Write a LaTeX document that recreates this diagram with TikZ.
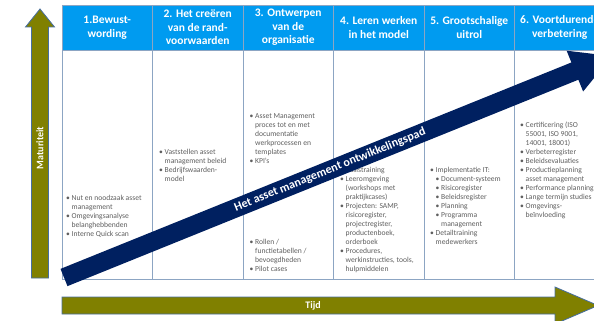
\documentclass[tikz,border=0pt]{standalone}
\usepackage{fontspec}
\setmainfont{Carlito}
\definecolor{hdrblue}{RGB}{0,155,240}
\definecolor{gridline}{RGB}{140,165,195}
\definecolor{padblue}{RGB}{0,32,96}
\definecolor{olivefill}{RGB}{128,128,0}
\definecolor{arrline}{RGB}{70,110,160}
\definecolor{txtgray}{RGB}{95,95,95}
\newcommand{\blt}{\makebox[5.5pt][l]{\textbullet}}
\newcommand{\hng}{\hspace*{5.5pt}}

\begin{document}
\begin{tikzpicture}[x=1pt, y=-1pt,
    hdr/.style={draw=gridline, fill=hdrblue, minimum width=90.5pt, minimum height=45pt, inner sep=0pt,
        align=center, text=white, font=\bfseries\fontsize{11.5}{13.5}\selectfont},
    body/.style={draw=gridline, fill=white, minimum width=90.5pt, minimum height=229pt, inner sep=0pt},
    cell/.style={anchor=north west, align=left, inner sep=0pt, text=txtgray, font=\fontsize{7.6}{9}\selectfont},
    olivearr/.style={fill=olivefill, draw=arrline, line width=0.8pt},
    arrtxt/.style={text=white, font=\bfseries\fontsize{10}{11}\selectfont},
    bandtxt/.style={text=white, font=\bfseries\fontsize{12}{13}\selectfont}
]
    \useasboundingbox (0,0) rectangle (594,321);
    \clip (0,0) rectangle (594,321);

    \node[hdr] (h1) at (107.25,27.5) {1.Bewust-\\wording};
    \node[hdr] (h2) at (197.75,27.5) {2. Het creëren\\van de rand-\\voorwaarden};
    \node[hdr] (h3) at (288.25,27.5) {3. Ontwerpen\\van de\\organisatie};
    \node[hdr] (h4) at (378.75,27.5) {4. Leren werken\\in het model};
    \node[hdr] (h5) at (469.25,27.5) {5. Grootschalige\\uitrol};
    \node[hdr] (h6) at (559.75,27.5) {6. Voortdurende\\verbetering};

    \node[body] (b1) at (107.25,164.5) {};
    \node[body] (b2) at (197.75,164.5) {};
    \node[body] (b3) at (288.25,164.5) {};
    \node[body] (b4) at (378.75,164.5) {};
    \node[body] (b5) at (469.25,164.5) {};
    \node[body] (b6) at (559.75,164.5) {};

    \node[cell] (c1) at (66,195.5) {\blt Nut en noodzaak asset\\\hng management\\\blt Omgevingsanalyse\\\hng belanghebbenden\\\blt Interne Quick scan};
    \node[cell] (c2) at (159,149.5) {\blt Vaststellen asset\\\hng management beleid\\\blt Bedrijfswaarden-\\\hng model};
    \node[cell] (c3a) at (249.5,113.5) {\blt Asset Management\\\hng proces tot en met\\\hng documentatie\\\hng werkprocessen en\\\hng templates\\\blt KPI's};
    \node[cell] (c3b) at (249.5,239.5) {\blt Rollen /\\\hng functietabellen /\\\hng bevoegdheden\\\blt Pilot cases};
    \node[cell] (c4) at (340,167.5) {\blt Basistraining\\\blt Leeromgeving\\\hng (workshops met\\\hng praktijkcases)\\\blt Projecten: SAMP,\\\hng risicoregister,\\\hng projectregister,\\\hng productenboek,\\\hng orderboek\\\blt Procedures,\\\hng werkinstructies, tools,\\\hng hulpmiddelen};
    \node[cell] (c5) at (430,167.5) {\blt Implementatie IT:\\\hng\blt Document-systeem\\\hng\blt Risicoregister\\\hng\blt Beleidsregister\\\hng\blt Planning\\\hng\blt Programma\\\hng\hng management\\\blt Detailtraining\\\hng medewerkers};
    \node[cell] (c6) at (520,121.5) {\blt Certificering (ISO\\\hng 55001, ISO 9001,\\\hng 14001, 18001)\\\blt Verbeterregister\\\blt Beleidsevaluaties\\\blt Productieplanning\\\hng asset management\\\blt Performance planning\\\blt Lange termijn studies\\\blt Omgevings-\\\hng beïnvloeding};

    \begin{scope}[shift={(64,277.5)}, rotate=22]
        \fill[padblue] (0,-9.3) -- (551,-9.3) -- (551,-22) -- (591,0) -- (551,22) -- (551,9.3) -- (0,9.3) -- cycle;
    \end{scope}
    \node[bandtxt, rotate=22] (pad) at (330,170) {Het asset management ontwikkelingspad};

    \draw[olivearr] (31.5,278) -- (31.5,27) -- (25.5,27) -- (40,9) -- (54.5,27) -- (48.5,27) -- (48.5,278) -- cycle;
    \node[arrtxt, rotate=90] (mat) at (40,148) {Maturiteit};
    \draw[olivearr] (62,297) -- (555,297) -- (555,287) -- (598,305.5) -- (555,324) -- (555,314) -- (62,314) -- cycle;
    \node[arrtxt] (tijd) at (313,305.5) {Tijd};
\end{tikzpicture}
\end{document}
